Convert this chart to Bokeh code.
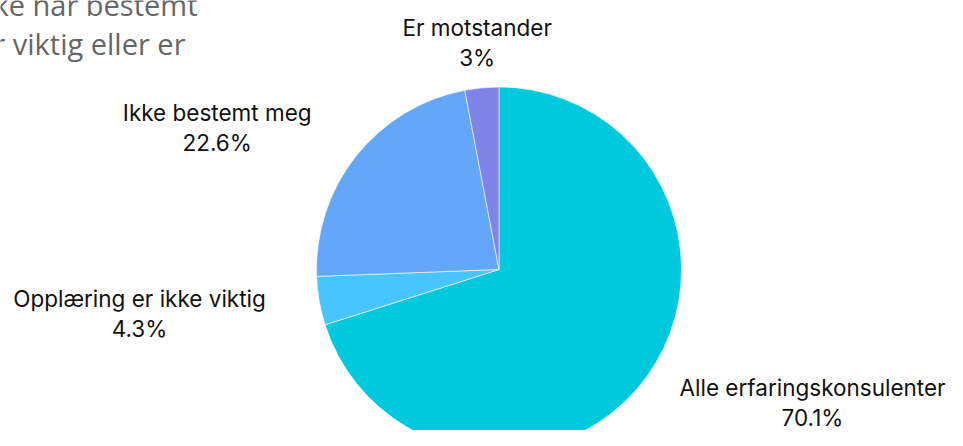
import math
from bokeh.plotting import figure
from bokeh.models import Range1d, ColumnDataSource
from bokeh.core.properties import value
from bokeh.embed import file_html
from bokeh.resources import INLINE

categories = ["Alle erfaringskonsulenter", "Opplæring er ikke viktig", "Ikke bestemt meg", "Er motstander"]
values = [70.1, 4.3, 22.6, 3]
colors = ["#00C9DD", "#48C4FF", "#64A7F9", "#7F84E8"]
title_lines = ["Hvor mange som ikke har bestemt", "seg, mener opplæring ikke er viktig eller er"]

# layout (picture pixel coordinates, y downward)
W, H = 947, 430
cx, cy, r = 498.5, 269, 182.5
label_pos = [(812, 387), (139, 298), (216.7, 112), (476.7, 27)]
line_gap = 30
title_x = [197, 185]
title_base = [4, 43]

def ypg(y):
    return H - y

p = figure(width=W, height=H, output_backend="svg", toolbar_location=None,
           x_range=Range1d(0, W), y_range=Range1d(0, H), min_border=0)
p.axis.visible = False
p.grid.visible = False
p.outline_line_color = None
p.background_fill_color = "white"
p.border_fill_color = "white"

total = sum(values)
starts, ends = [], []
acc = 0.0
for v in values:
    starts.append(math.pi / 2 - 2 * math.pi * acc / total)
    acc += v
    ends.append(math.pi / 2 - 2 * math.pi * acc / total)

src = ColumnDataSource(dict(x=[cx] * len(values), y=[ypg(cy)] * len(values),
                            start=starts, end=ends, color=colors))
p.wedge(x="x", y="y", radius=r, start_angle="start", end_angle="end",
        direction="clock", fill_color="color", line_color="white", line_width=0.6,
        source=src)

def pct(v):
    return f"{v:g}%"

p.text(x=[lp[0] for lp in label_pos], y=[ypg(lp[1]) for lp in label_pos], text=categories,
       text_font=value("Inter"), text_font_size="22.5px", text_color="#111111",
       text_align="center", text_baseline="middle")
p.text(x=[lp[0] for lp in label_pos], y=[ypg(lp[1] + line_gap) for lp in label_pos],
       text=[pct(v) for v in values],
       text_font=value("Inter"), text_font_size="22.5px", text_color="#111111",
       text_align="center", text_baseline="middle")

# title (partly outside the visible page, as in the reference)
p.text(x=title_x, y=[ypg(b) for b in title_base], text=title_lines,
       text_font=value("Open Sans"), text_font_size="29px", text_color="#666666",
       text_align="right", text_baseline="alphabetic")

open("out.html", "w").write(file_html(p, INLINE))
